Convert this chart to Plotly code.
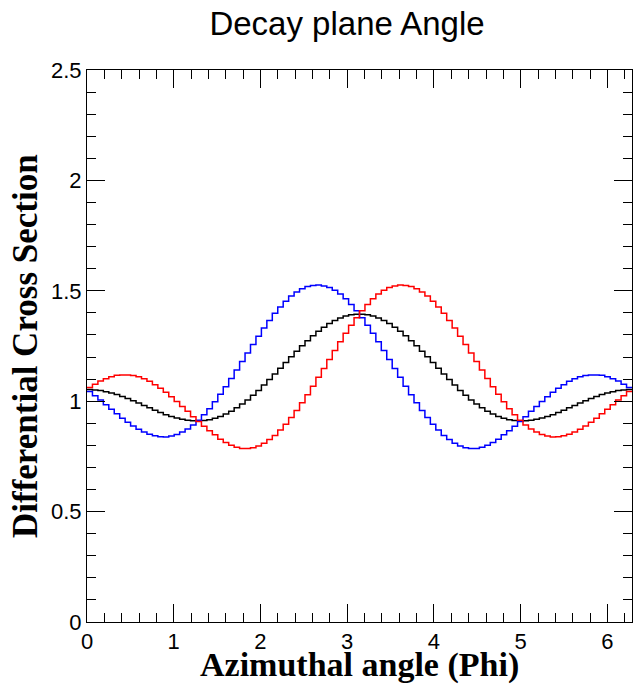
import numpy as np
import plotly.graph_objects as go

# Histogram: 100 bins over [0, 2*pi]
n_bins = 100
x_min, x_max = 0.0, 2 * np.pi

black_vals = [
    1.053, 1.051, 1.048, 1.043, 1.037, 1.030, 1.021, 1.012, 1.002, 0.992,
    0.981, 0.970, 0.959, 0.949, 0.939, 0.931, 0.924, 0.918, 0.914, 0.911,
    0.911, 0.913, 0.916, 0.923, 0.931, 0.942, 0.955, 0.970, 0.987, 1.006,
    1.027, 1.049, 1.073, 1.098, 1.123, 1.149, 1.175, 1.201, 1.226, 1.251,
    1.274, 1.296, 1.317, 1.335, 1.352, 1.366, 1.377, 1.386, 1.391, 1.394,
    1.394, 1.391, 1.386, 1.377, 1.366, 1.352, 1.335, 1.317, 1.296, 1.274,
    1.251, 1.226, 1.201, 1.175, 1.149, 1.123, 1.098, 1.073, 1.049, 1.027,
    1.006, 0.987, 0.970, 0.955, 0.942, 0.931, 0.923, 0.916, 0.913, 0.911,
    0.911, 0.914, 0.918, 0.924, 0.931, 0.939, 0.949, 0.959, 0.970, 0.981,
    0.992, 1.002, 1.012, 1.021, 1.030, 1.037, 1.043, 1.048, 1.051, 1.053,
]

blue_vals = [
    1.044, 1.025, 1.005, 0.984, 0.963, 0.943, 0.923, 0.905, 0.888, 0.873,
    0.860, 0.850, 0.843, 0.839, 0.838, 0.842, 0.849, 0.860, 0.874, 0.892,
    0.914, 0.939, 0.966, 0.998, 1.031, 1.066, 1.103, 1.141, 1.180, 1.218,
    1.257, 1.294, 1.331, 1.366, 1.398, 1.427, 1.453, 1.476, 1.494, 1.509,
    1.519, 1.524, 1.526, 1.522, 1.515, 1.502, 1.485, 1.464, 1.438, 1.410,
    1.378, 1.344, 1.308, 1.269, 1.230, 1.189, 1.148, 1.108, 1.068, 1.029,
    0.993, 0.958, 0.926, 0.896, 0.869, 0.845, 0.826, 0.809, 0.797, 0.789,
    0.786, 0.786, 0.791, 0.800, 0.813, 0.828, 0.848, 0.866, 0.887, 0.908,
    0.930, 0.954, 0.976, 0.999, 1.020, 1.040, 1.059, 1.075, 1.090, 1.102,
    1.111, 1.116, 1.119, 1.119, 1.117, 1.111, 1.102, 1.091, 1.077, 1.062,
]

red_vals = [
    1.062, 1.077, 1.091, 1.102, 1.111, 1.117, 1.119, 1.119, 1.116, 1.111,
    1.102, 1.090, 1.075, 1.059, 1.040, 1.020, 0.999, 0.976, 0.954, 0.930,
    0.908, 0.887, 0.866, 0.848, 0.828, 0.813, 0.800, 0.791, 0.786, 0.786,
    0.789, 0.797, 0.809, 0.826, 0.845, 0.869, 0.896, 0.926, 0.958, 0.993,
    1.029, 1.068, 1.108, 1.148, 1.189, 1.230, 1.269, 1.308, 1.344, 1.378,
    1.410, 1.438, 1.464, 1.485, 1.502, 1.515, 1.522, 1.526, 1.524, 1.519,
    1.509, 1.494, 1.476, 1.453, 1.427, 1.398, 1.366, 1.331, 1.294, 1.257,
    1.218, 1.180, 1.141, 1.103, 1.066, 1.031, 0.998, 0.966, 0.939, 0.914,
    0.892, 0.874, 0.860, 0.849, 0.842, 0.838, 0.839, 0.843, 0.850, 0.860,
    0.873, 0.888, 0.905, 0.923, 0.943, 0.963, 0.984, 1.005, 1.025, 1.044,
]

title_text = "Decay plane Angle"
x_title = "Azimuthal angle (Phi)"
y_title = "Differential Cross Section"

edges = np.linspace(x_min, x_max, n_bins + 1)

fig = go.Figure()
for vals, col in [(black_vals, "#000000"), (blue_vals, "#0000ff"), (red_vals, "#ff0000")]:
    fig.add_trace(go.Scatter(
        x=edges, y=list(vals) + [vals[-1]],
        mode="lines", line=dict(color=col, width=1.5, shape="hv"),
        showlegend=False, hoverinfo="skip",
    ))

W, H = 634, 690
ml, mr, mt, mb = 87, 2, 70, 68
pw, ph = W - ml - mr, H - mt - mb

axis_common = dict(
    showline=True, linecolor="black", linewidth=1, mirror="allticks",
    ticks="inside", ticklen=18, tickwidth=1, tickcolor="black",
    showgrid=False, zeroline=False,
    tickfont=dict(family="Liberation Sans, Arial, sans-serif", size=22, color="black"),
)

fig.update_xaxes(range=[x_min, x_max], dtick=1, tick0=0,
                 minor=dict(dtick=0.2, ticks="inside", ticklen=9, tickcolor="black", tickwidth=1),
                 **axis_common)
fig.update_yaxes(range=[0, 2.5], dtick=0.5, tick0=0,
                 minor=dict(dtick=0.1, ticks="inside", ticklen=9, tickcolor="black", tickwidth=1),
                 **axis_common)

fig.update_layout(
    width=W, height=H,
    margin=dict(l=ml, r=mr, t=mt, b=mb, autoexpand=False),
    paper_bgcolor="white", plot_bgcolor="white",
    title=dict(text=title_text, x=347 / W, xanchor="center",
               y=1 - 23 / H, yanchor="middle", yref="container",
               font=dict(family="Liberation Sans, Arial, sans-serif", size=33, color="black")),
    annotations=[
        dict(text="<b>" + x_title + "</b>", xref="paper", yref="paper",
             x=0.5, y=(0 - (665 - (H - mb))) / ph, xanchor="center", yanchor="middle",
             showarrow=False,
             font=dict(family="Liberation Serif, Times New Roman, serif", size=34, color="black")),
        dict(text="<b>" + y_title + "</b>", xref="paper", yref="paper",
             x=(25 - ml) / pw, y=0.5, xanchor="center", yanchor="middle",
             textangle=-90, showarrow=False,
             font=dict(family="Liberation Serif, Times New Roman, serif", size=35, color="black")),
    ],
)

fig.write_html("out.html")
